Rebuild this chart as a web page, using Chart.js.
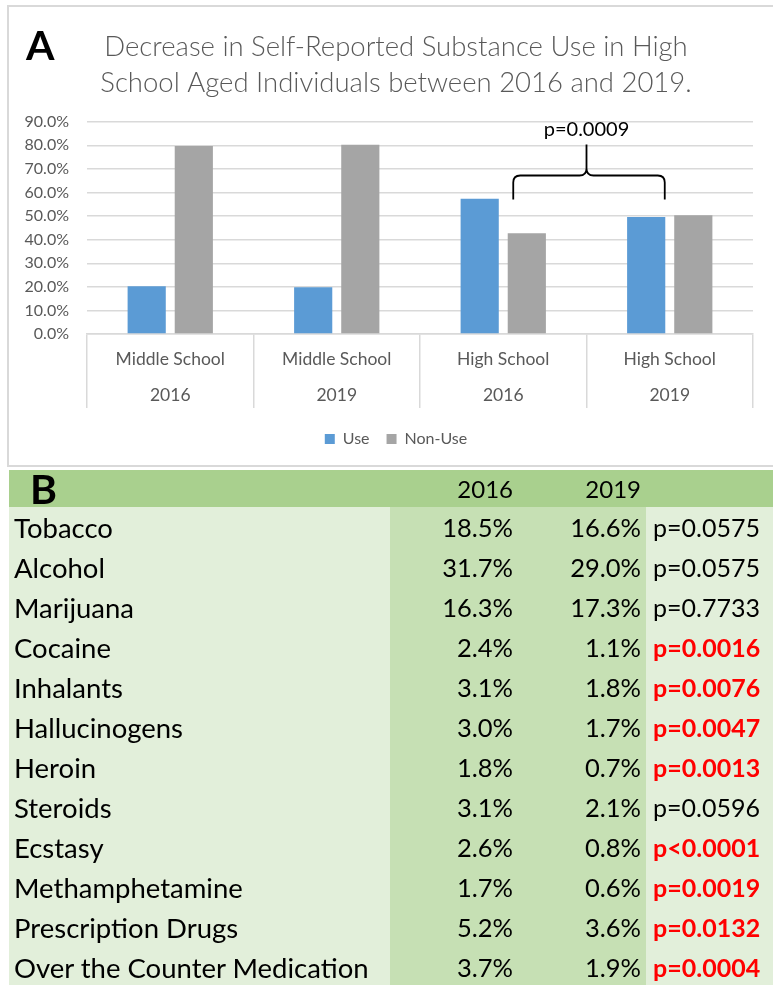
<!DOCTYPE html>
<html>
<head>
<meta charset="utf-8">
<script src="https://cdn.jsdelivr.net/npm/chart.js@4/dist/chart.umd.min.js"></script>
<style>
  body { margin:0; background:#fff; width:773px; height:985px; overflow:hidden; position:relative; font-family:Lato, sans-serif; }
  #panelA { position:absolute; left:7px; top:5px; width:790px; height:462px; border:2px solid #d9d9d9; box-sizing:border-box; }
  #chartA { position:absolute; left:0; top:0; }
  #letterA { position:absolute; left:26px; top:20px; font:bold 41px Lato, sans-serif; color:#000; }
  #tableB { position:absolute; left:9px; top:470px; border-collapse:collapse; color:#000; table-layout:fixed; }
  #tableB td { padding:0; height:40px; white-space:nowrap; }
  #tableB tr.head td { background:#a9d08e; height:37px; font-size:24px; }
  #tableB td.name { background:#e2efda; padding-left:5px; font-size:27.5px; }
  #tableB td.num { background:#c6e0b4; text-align:right; font-size:25.5px; }
  #tableB td.p { background:#e2efda; padding-left:7px; font-size:25px; }
  #tableB td.sig { color:#ff0000; font-weight:bold; }
  #tableB td#letterB { font:bold 41px Lato, sans-serif; padding-left:21px; line-height:37px; }
</style>
</head>
<body>
<div id="panelA"></div>
<canvas id="chartA" width="773" height="467"></canvas>
<div id="letterA">A</div>
<table id="tableB">
  <colgroup><col style="width:381px"><col style="width:127px"><col style="width:129px"><col style="width:127px"></colgroup>
  <tbody id="tbodyB"></tbody>
</table>
<script>
// ---- panel A data ----
const titleLines = ["Decrease in Self-Reported Substance Use in High", "School Aged Individuals between 2016 and 2019."];
const categories = [["Middle School","2016"],["Middle School","2019"],["High School","2016"],["High School","2019"]];
const useValues    = [20.3, 19.8, 57.3, 49.6];
const nonUseValues = [79.7, 80.2, 42.7, 50.4];
const yMax = 90, yStep = 10;
const pLabel = "p=0.0009";
const braceLevels = [57, 67.2, 80.4, 86.5];   // end of arms, bar, tip, label (in %)

// ---- panel B data ----
const substances = ["Tobacco","Alcohol","Marijuana","Cocaine","Inhalants","Hallucinogens","Heroin","Steroids","Ecstasy","Methamphetamine","Prescription Drugs","Over the Counter Medication"];
const pct2016 = ["18.5%","31.7%","16.3%","2.4%","3.1%","3.0%","1.8%","3.1%","2.6%","1.7%","5.2%","3.7%"];
const pct2019 = ["16.6%","29.0%","17.3%","1.1%","1.8%","1.7%","0.7%","2.1%","0.8%","0.6%","3.6%","1.9%"];
const pValues = ["p=0.0575","p=0.0575","p=0.7733","p=0.0016","p=0.0076","p=0.0047","p=0.0013","p=0.0596","p<0.0001","p=0.0019","p=0.0132","p=0.0004"];
const significant = [false,false,false,true,true,true,true,false,true,true,true,true];

/* ---------- table B ---------- */
const tb = document.getElementById("tbodyB");
let html = `<tr class="head"><td id="letterB">B</td><td class="num" style="background:#a9d08e;font-size:24px;padding-right:4px">2016</td><td class="num" style="background:#a9d08e;font-size:24px;padding-right:5px">2019</td><td></td></tr>`;
substances.forEach((s,i)=>{
  html += `<tr><td class="name">${s}</td><td class="num" style="padding-right:4px">${pct2016[i]}</td><td class="num" style="padding-right:5px">${pct2019[i]}</td><td class="p${significant[i]?" sig":""}">${pValues[i]}</td></tr>`;
});
tb.innerHTML = html;

/* ---------- brace annotation ---------- */
const bracePlugin = {
  id: "brace",
  afterDatasetsDraw(chart){
    const {ctx, scales:{x, y}} = chart;
    const cA = x.getPixelForValue(2), cB = x.getPixelForValue(3);
    const x1 = cA + 10, x2 = cB - 5, xm = (cA + cB) / 2;
    const yEnd = y.getPixelForValue(braceLevels[0]);
    const yBar = y.getPixelForValue(braceLevels[1]);
    const yTip = y.getPixelForValue(braceLevels[2]);
    const yTxt = y.getPixelForValue(braceLevels[3]);
    const r = 7;
    ctx.save();
    ctx.strokeStyle = "#000"; ctx.lineWidth = 1.8;
    ctx.beginPath();
    ctx.moveTo(x1, yEnd);
    ctx.lineTo(x1, yBar + r);
    ctx.quadraticCurveTo(x1, yBar, x1 + r, yBar);
    ctx.lineTo(xm - r, yBar);
    ctx.quadraticCurveTo(xm, yBar, xm, yBar - r);
    ctx.lineTo(xm, yTip);
    ctx.moveTo(xm, yBar - r);
    ctx.quadraticCurveTo(xm, yBar, xm + r, yBar);
    ctx.lineTo(x2 - r, yBar);
    ctx.quadraticCurveTo(x2, yBar, x2, yBar + r);
    ctx.lineTo(x2, yEnd);
    ctx.stroke();
    ctx.fillStyle = "#000";
    ctx.font = "20px Lato";
    ctx.textAlign = "center"; ctx.textBaseline = "middle";
    ctx.fillText(pLabel, xm, yTxt);
    ctx.restore();
  }
};

Chart.defaults.font.family = "Lato";
Chart.defaults.color = "#595959";

new Chart(document.getElementById("chartA"), {
  type: "bar",
  data: {
    labels: categories,
    datasets: [
      { label: "Use", data: useValues, backgroundColor: "#5b9bd5" },
      { label: "Non-Use", data: nonUseValues, backgroundColor: "#a5a5a5" }
    ]
  },
  options: {
    responsive: false,
    animation: false,
    categoryPercentage: 0.566,
    barPercentage: 0.81,
    layout: { padding: { left: 19, right: 0, top: 0, bottom: 10 } },
    plugins: {
      title: { display: true, text: titleLines, color: "#595959", font: { size: 27.5, weight: 300, lineHeight: 1.31 }, padding: { top: 29, bottom: 20.7 } },
      legend: { position: "bottom", labels: { boxWidth: 10, boxHeight: 10, padding: 17, font: { size: 16 }, color: "#595959" } },
      tooltip: { enabled: false }
    },
    scales: {
      x: {
        grid: { offset: true, drawOnChartArea: false, tickLength: 74, color: "#d9d9d9", lineWidth: 1.5 },
        border: { color: "#d9d9d9", width: 1.5 },
        ticks: { padding: -67.5, autoSkip: false, font: { size: 17.5, lineHeight: 2.1 }, color: "#595959", maxRotation: 0 },
        afterFit(scale){ scale.height = 80; }
      },
      y: {
        min: 0, max: yMax,
        ticks: { stepSize: yStep, padding: 18, font: { size: 16 }, color: "#595959", callback: v => v.toFixed(1) + "%" },
        grid: { color: "#d9d9d9", lineWidth: 1.5, drawTicks: false },
        border: { display: false },
        afterFit(scale){ scale.width = 68; }
      },
      yPad: {
        position: "right",
        display: true,
        ticks: { display: false },
        grid: { display: false, drawTicks: false },
        border: { display: false },
        afterFit(scale){ scale.width = 20; }
      }
    }
  },
  plugins: [bracePlugin]
});
</script>
</body>
</html>
